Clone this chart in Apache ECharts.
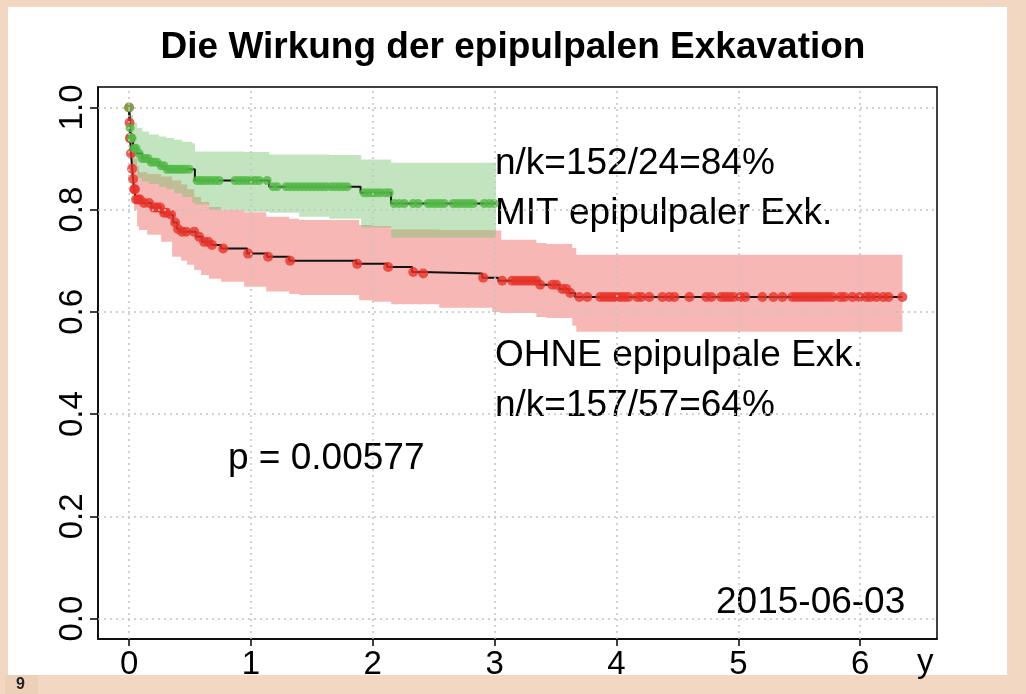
<!DOCTYPE html>
<html>
<head>
<meta charset="utf-8">
<title>Die Wirkung der epipulpalen Exkavation</title>
<script src="https://cdn.jsdelivr.net/npm/echarts@6/dist/echarts.min.js"></script>
<style>
  html, body { margin: 0; padding: 0; background: #f2d8c3; }
  #panel { position: absolute; left: 8px; top: 7px; width: 999px; height: 668px; background: #fff; }
  #chart { position: absolute; left: 0; top: 0; width: 1026px; height: 694px; }
</style>
</head>
<body>
<div id="panel"></div>
<div id="chart"></div>
<script>
// Achsen
const xTicks = [0, 1, 2, 3, 4, 5, 6];
const yTicks = [0, 0.2, 0.4, 0.6, 0.8, 1.0];

// MIT epipulpaler Exkavation (gruen) - Kaplan-Meier Stufen
const mitTime = [0, 0.008, 0.016, 0.033, 0.066, 0.107, 0.164, 0.246, 0.304, 0.54, 1.15, 1.90, 2.15];
const mitSurv = [1.0, 0.96, 0.94, 0.92, 0.91, 0.90, 0.893, 0.886, 0.879, 0.857, 0.845, 0.833, 0.812];
const mitEnd = 3.01;
// zensierte Faelle
const mitCensor = [0, 0.008, 0.016, 0.025, 0.041, 0.057, 0.082, 0.107, 0.131, 0.156, 0.181, 0.205, 0.23,
  0.263, 0.287, 0.312, 0.337, 0.361, 0.386, 0.411, 0.435, 0.46, 0.493, 0.558, 0.583, 0.608, 0.64, 0.673,
  0.706, 0.739, 0.87, 0.903, 0.936, 0.969, 1.002, 1.034, 1.067, 1.133, 1.182, 1.215, 1.289, 1.322, 1.355,
  1.388, 1.42, 1.453, 1.486, 1.519, 1.552, 1.585, 1.617, 1.658, 1.691, 1.724, 1.757, 1.79, 1.929, 1.962,
  1.995, 2.028, 2.061, 2.102, 2.135, 2.176, 2.217, 2.258, 2.332, 2.373, 2.455, 2.488, 2.521, 2.553, 2.586,
  2.66, 2.693, 2.726, 2.759, 2.791, 2.824, 2.915, 2.956, 2.997];
// Konfidenzband
const mitBandTime = [0, 0.008, 0.016, 0.033, 0.066, 0.107, 0.164, 0.246, 0.304, 0.37, 0.435, 0.517, 0.54,
  0.657, 0.944, 1.15, 1.396, 1.642, 1.905, 2.151];
const mitUpper = [1.0, 0.995, 0.985, 0.97, 0.96, 0.953, 0.947, 0.943, 0.94, 0.937, 0.933, 0.93, 0.914,
  0.914, 0.913, 0.908, 0.908, 0.907, 0.898, 0.892];
const mitLower = [1.0, 0.93, 0.905, 0.885, 0.862, 0.855, 0.85, 0.845, 0.84, 0.832, 0.825, 0.814, 0.81,
  0.80, 0.796, 0.794, 0.786, 0.782, 0.765, 0.745];

// OHNE epipulpale Exkavation (rot)
const ohneTime = [0, 0.004, 0.008, 0.016, 0.025, 0.033, 0.041, 0.057, 0.107, 0.181, 0.263, 0.328, 0.361,
  0.394, 0.419, 0.55, 0.60, 0.673, 0.755, 0.969, 1.133, 1.314, 1.864, 2.118, 2.323, 2.406, 2.898, 3.03,
  3.366, 3.53, 3.61, 3.66];
const ohneSurv = [1.0, 0.97, 0.94, 0.91, 0.88, 0.86, 0.84, 0.82, 0.813, 0.804, 0.794, 0.79, 0.775, 0.762,
  0.757, 0.747, 0.737, 0.731, 0.724, 0.714, 0.708, 0.70, 0.694, 0.688, 0.678, 0.675, 0.667, 0.661, 0.653,
  0.645, 0.637, 0.629];
const ohneEnd = 6.346;
const ohneCensor = [0, 0.004, 0.008, 0.012, 0.016, 0.025, 0.033, 0.041, 0.049, 0.057, 0.074, 0.09, 0.123,
  0.164, 0.205, 0.23, 0.255, 0.287, 0.312, 0.345, 0.378, 0.402, 0.435, 0.468, 0.534, 0.575, 0.616, 0.649,
  0.681, 0.772, 0.977, 1.141, 1.322, 1.872, 2.126, 2.332, 2.414, 2.906, 3.062, 3.144, 3.177, 3.21, 3.243,
  3.276, 3.309, 3.342, 3.374, 3.473, 3.506, 3.555, 3.588, 3.621, 3.695, 3.76, 3.867, 3.9, 3.933, 3.966,
  3.998, 4.031, 4.064, 4.097, 4.171, 4.204, 4.269, 4.376, 4.433, 4.475, 4.598, 4.737, 4.778, 4.86, 4.893,
  4.926, 4.959, 5.016, 5.057, 5.197, 5.287, 5.361, 5.443, 5.476, 5.509, 5.542, 5.575, 5.608, 5.64, 5.673,
  5.706, 5.739, 5.772, 5.837, 5.87, 5.936, 5.993, 6.051, 6.084, 6.133, 6.19, 6.232, 6.346];
const ohneBandTime = [0, 0.008, 0.016, 0.025, 0.041, 0.066, 0.082, 0.148, 0.263, 0.353, 0.427, 0.476,
  0.534, 0.591, 0.657, 0.755, 0.944, 1.125, 1.314, 1.396, 1.888, 1.995, 2.151, 2.545, 2.98, 3.054, 3.342,
  3.424, 3.637, 3.67];
const ohneUpper = [1.0, 0.99, 0.97, 0.94, 0.9, 0.885, 0.873, 0.87, 0.865, 0.857, 0.849, 0.84, 0.825, 0.815,
  0.805, 0.80, 0.795, 0.786, 0.782, 0.78, 0.77, 0.768, 0.761, 0.76, 0.759, 0.741, 0.735, 0.733, 0.725, 0.712];
const ohneLower = [1.0, 0.9, 0.86, 0.83, 0.8, 0.767, 0.76, 0.751, 0.737, 0.708, 0.70, 0.692, 0.682, 0.672,
  0.665, 0.659, 0.649, 0.64, 0.635, 0.633, 0.623, 0.62, 0.615, 0.608, 0.60, 0.598, 0.59, 0.588, 0.573, 0.561];

const FONT = '"Liberation Sans", Arial, Helvetica, sans-serif';

// Wert der Treppenfunktion zum Zeitpunkt t
function survAt(times, surv, t) {
  let v = surv[0];
  for (let i = 0; i < times.length; i++) {
    if (times[i] <= t) v = surv[i];
  }
  return v;
}

function stepData(times, surv, end) {
  const d = times.map((t, i) => [t, surv[i]]);
  d.push([end, surv[surv.length - 1]]);
  return d;
}

function censorData(times, surv, cens) {
  return cens.map(t => [t, survAt(times, surv, t)]);
}

// Band als ein Polygon (obere Stufen hin, untere zurueck)
function bandSeries(times, upper, lower, end, color) {
  return {
    type: 'custom',
    silent: true,
    z: 2,
    data: [[0, 1]],
    renderItem: function (params, api) {
      const up = [], lo = [];
      for (let i = 0; i < times.length; i++) {
        const t1 = i < times.length - 1 ? times[i + 1] : end;
        up.push(api.coord([times[i], upper[i]]), api.coord([t1, upper[i]]));
        lo.push(api.coord([times[i], lower[i]]), api.coord([t1, lower[i]]));
      }
      return {
        type: 'polygon',
        shape: { points: up.concat(lo.reverse()) },
        style: { fill: color }
      };
    }
  };
}

const chart = echarts.init(document.getElementById('chart'));

const gridLines = [];
xTicks.forEach(v => gridLines.push({ xAxis: v }));
yTicks.forEach(v => gridLines.push({ yAxis: v }));

const option = {
  animation: false,
  title: {
    text: 'Die Wirkung der epipulpalen Exkavation',
    left: 'center',
    top: 24,
    textStyle: { fontFamily: FONT, fontSize: 37, fontWeight: 'bold', color: '#000' }
  },
  grid: {
    left: 98, right: 89, top: 87, bottom: 55,
    show: true, borderColor: '#000', borderWidth: 1.5, backgroundColor: 'transparent'
  },
  xAxis: {
    type: 'value',
    min: -0.255,
    max: 6.63,
    splitLine: { show: false },
    axisLine: { onZero: false, lineStyle: { color: '#000', width: 1.5 } },
    axisTick: { customValues: xTicks, length: 7, lineStyle: { color: '#000', width: 1.5 } },
    axisLabel: {
      customValues: xTicks, margin: 9, color: '#000', fontFamily: FONT, fontSize: 33,
      formatter: v => String(v)
    }
  },
  yAxis: {
    type: 'value',
    min: -0.04,
    max: 1.04,
    splitLine: { show: false },
    axisLine: { onZero: false, lineStyle: { color: '#000', width: 1.5 } },
    axisTick: { customValues: yTicks, length: 8, lineStyle: { color: '#000', width: 1.5 } },
    axisLabel: {
      customValues: yTicks, rotate: 90, margin: 9, color: '#000', fontFamily: FONT, fontSize: 33,
      formatter: v => v.toFixed(1)
    }
  },
  graphic: [
    { type: 'text', left: 495, top: 145, style: { text: 'n/k=152/24=84%', font: '37px ' + FONT, fill: '#000' } },
    { type: 'text', left: 495, top: 195, style: { text: 'MIT epipulpaler Exk.', font: '37px ' + FONT, fill: '#000' } },
    { type: 'text', left: 495, top: 337, style: { text: 'OHNE epipulpale Exk.', font: '37px ' + FONT, fill: '#000' } },
    { type: 'text', left: 495, top: 387, style: { text: 'n/k=157/57=64%', font: '37px ' + FONT, fill: '#000' } },
    { type: 'text', left: 228, top: 440, style: { text: 'p = 0.00577', font: '37px ' + FONT, fill: '#000' } },
    { type: 'text', left: 716, top: 584, style: { text: '2015-06-03', font: '37px ' + FONT, fill: '#000' } },
    { type: 'text', left: 917, top: 646, style: { text: 'y', font: '33px ' + FONT, fill: '#000' } },
    { type: 'rect', left: 5, top: 675, shape: { width: 33, height: 19 }, style: { fill: '#ecd0b8' } },
    { type: 'text', left: 16, top: 677, style: { text: '9', font: 'bold 16px ' + FONT, fill: '#222' } }
  ],
  series: [
    {
      // Gitterlinien
      type: 'line',
      data: [],
      silent: true,
      z: 1,
      markLine: {
        silent: true,
        symbol: 'none',
        label: { show: false },
        lineStyle: { color: '#c4c4c4', type: [2, 4], width: 1.5 },
        data: gridLines
      }
    },
    bandSeries(ohneBandTime, ohneUpper, ohneLower, ohneEnd, 'rgba(236, 86, 78, 0.42)'),
    bandSeries(mitBandTime, mitUpper, mitLower, mitEnd, 'rgba(120, 195, 110, 0.45)'),
    {
      type: 'line', step: 'end', z: 3, symbol: 'none',
      lineStyle: { color: '#111', width: 2 },
      data: stepData(ohneTime, ohneSurv, ohneEnd)
    },
    {
      type: 'line', step: 'end', z: 3, symbol: 'none',
      lineStyle: { color: '#111', width: 2 },
      data: stepData(mitTime, mitSurv, mitEnd)
    },
    {
      type: 'scatter', z: 4, symbolSize: 10,
      itemStyle: { color: '#e8332a' },
      data: censorData(ohneTime, ohneSurv, ohneCensor)
    },
    {
      type: 'scatter', z: 4, symbolSize: 9,
      itemStyle: { color: '#52b946' },
      data: censorData(mitTime, mitSurv, mitCensor)
    }
  ]
};

chart.setOption(option);
</script>
</body>
</html>
